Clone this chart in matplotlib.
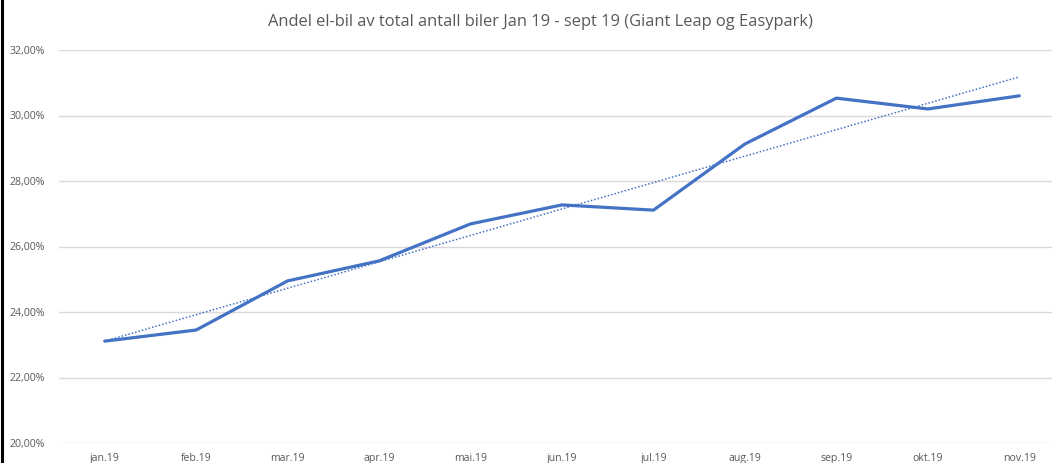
import matplotlib
matplotlib.use("Agg")
import matplotlib.pyplot as plt
import numpy as np
from matplotlib.ticker import FuncFormatter, FixedLocator
from matplotlib.lines import Line2D

months = ["jan.19", "feb.19", "mar.19", "apr.19", "mai.19", "jun.19",
          "jul.19", "aug.19", "sep.19", "okt.19", "nov.19"]
share_pct = [23.11, 23.45, 24.95, 25.56, 26.69, 27.27, 27.11, 29.13, 30.53, 30.20, 30.60]
y_ticks = [20, 22, 24, 26, 28, 30, 32]
title = "Andel el-bil av total antall biler Jan 19 - sept 19 (Giant Leap og Easypark)"

W, H = 1052, 463
fig = plt.figure(figsize=(W / 100, H / 100), dpi=100)
plt.rcParams['font.family'] = ['Open Sans', 'DejaVu Sans']

left_px, right_px = 59, 1065
top_px, bot_px = 50, 443
ax = fig.add_axes([left_px / W, 1 - bot_px / H, (right_px - left_px) / W, (bot_px - top_px) / H])

x = np.arange(len(months))
ax.plot(x, share_pct, color="#4472C4", lw=2.3, solid_capstyle="round", zorder=3)
coef = np.polyfit(x, share_pct, 1)
ax.plot(x, np.polyval(coef, x), color="#4472C4", lw=1.1, ls=(0, (1, 1.3)), zorder=2)

ax.set_xlim(-0.5, len(months) - 0.5)
ax.set_ylim(20, 32)
ax.yaxis.set_major_locator(FixedLocator(y_ticks))
ax.yaxis.set_major_formatter(FuncFormatter(lambda v, p: f"{v:.2f}".replace(".", ",") + "%"))
ax.set_xticks(x)
ax.set_xticklabels(months)
ax.grid(axis="y", color="#D9D9D9", lw=1)
ax.set_axisbelow(True)
for s in ax.spines.values():
    s.set_visible(False)
ax.tick_params(axis="both", length=0, labelsize=7.6, labelcolor="#595959")
ax.tick_params(axis="y", pad=10)
ax.tick_params(axis="x", pad=7.5)

fig.text(540 / W, 1 - 22 / H, title, ha="center", va="center", fontsize=11.9, color="#595959")
fig.add_artist(Line2D([2 / W, 2 / W], [0, 1], transform=fig.transFigure, color="black", lw=2.2))

fig.savefig("out.png", dpi=100)
